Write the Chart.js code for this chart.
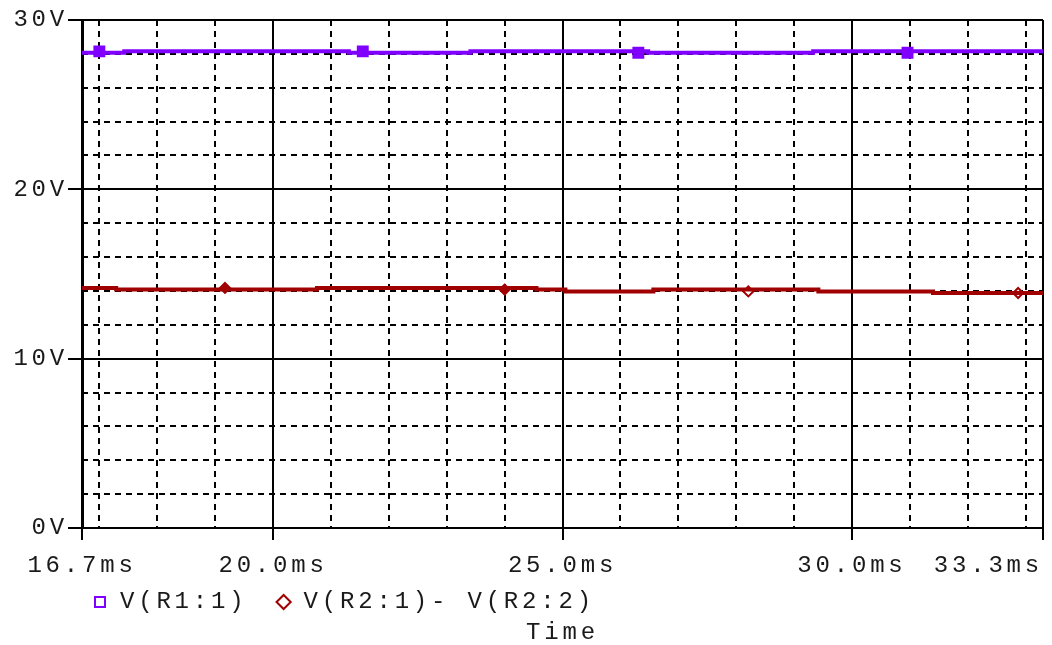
<!DOCTYPE html>
<html>
<head>
<meta charset="utf-8">
<title>Transient: V(R1:1) and V(R2:1)- V(R2:2)</title>
<script src="https://cdn.jsdelivr.net/npm/chart.js@4.4.1/dist/chart.umd.min.js"></script>
<style>
  html, body { margin: 0; padding: 0; background: #ffffff; }
  canvas { display: block; }
</style>
</head>
<body>
<canvas id="wave" width="1052" height="645"></canvas>
<script>
// ---- time axis (ms) ----
const timeRange = [16.7, 33.3];
const timeTickLabels = [16.7, 20.0, 25.0, 30.0, 33.3];
const timeMinorTicks = [17, 18, 19, 21, 22, 23, 24, 26, 27, 28, 29, 31, 32, 33];

// ---- voltage axis (V) ----
const voltRange = [0, 30];
const voltTickLabels = [0, 10, 20, 30];
const voltMinorTicks = [2, 4, 6, 8, 12, 14, 16, 18, 22, 24, 26, 28];

// ---- V(R1:1): step levels, each held until the next time ----
const r1Time = [16.7, 17.43, 21.31, 23.41, 26.48, 29.33, 31.69, 33.3];
const r1Volt = [28.15, 28.07, 28.15, 28.07, 28.15, 28.07, 28.15, 28.15];
const r1MarkTime = [17.0, 21.55, 26.31, 30.96];
const r1MarkVolt = [28.15, 28.15, 28.07, 28.07];

// ---- V(R2:1)- V(R2:2) ----
const r2Time = [16.7, 17.29, 20.76, 24.55, 25.05, 26.57, 29.42, 31.40, 32.69, 33.3];
const r2Volt = [14.08, 14.18, 14.08, 14.18, 14.08, 13.97, 14.08, 13.97, 13.88, 13.88];
const r2MarkTime = [19.17, 24.0, 28.21, 32.87];
const r2MarkVolt = [14.18, 14.08, 13.97, 13.88];

const seriesNames = ['V(R1:1)', 'V(R2:1)- V(R2:2)'];
const axisTitle = 'Time';

const PURPLE = '#8000ff';
const RED = '#a00000';
const INK = '#1a1a1a';
const MONO = { family: '"Liberation Mono", "Courier New", monospace', size: 24 };
const SPACING = '3.8px';

const pts = (xs, ys) => xs.map((x, i) => ({ x, y: ys[i] }));

// wide, evenly spaced lettering for every label on the canvas
const spacedText = {
  id: 'spacedText',
  beforeUpdate(chart) { chart.ctx.letterSpacing = SPACING; },
  beforeDraw(chart) { chart.ctx.letterSpacing = SPACING; }
};

const setTicks = list => scale => { scale.ticks = list.map(v => ({ value: v })); };

new Chart(document.getElementById('wave'), {
  type: 'line',
  data: {
    datasets: [
      {
        label: seriesNames[0],
        data: pts(r1Time, r1Volt),
        stepped: 'after',
        borderColor: PURPLE,
        borderWidth: 4,
        pointRadius: 0,
        xAxisID: 'x', yAxisID: 'y'
      },
      {
        label: seriesNames[1],
        data: pts(r2Time, r2Volt),
        stepped: 'after',
        borderColor: RED,
        borderWidth: 4,
        pointRadius: 0,
        xAxisID: 'x', yAxisID: 'y'
      },
      {
        label: seriesNames[0] + ' marker',
        data: pts(r1MarkTime, r1MarkVolt),
        showLine: false,
        pointStyle: 'rect',
        pointRadius: 7,
        pointBorderWidth: 2,
        pointBackgroundColor: PURPLE,
        pointBorderColor: PURPLE,
        xAxisID: 'x', yAxisID: 'y'
      },
      {
        label: seriesNames[1] + ' marker',
        data: pts(r2MarkTime, r2MarkVolt),
        showLine: false,
        pointStyle: 'rectRot',
        pointRadius: 5,
        pointBorderWidth: 2,
        pointBackgroundColor: [RED, RED, '#ffffff', '#ffffff'],
        pointBorderColor: RED,
        xAxisID: 'x', yAxisID: 'y'
      }
    ]
  },
  options: {
    responsive: false,
    animation: false,
    devicePixelRatio: 1,
    layout: { padding: { top: 20, right: 6, left: 0, bottom: 0 } },
    scales: {
      x: {
        type: 'linear',
        position: 'bottom',
        min: timeRange[0], max: timeRange[1],
        afterBuildTicks: setTicks(timeTickLabels),
        afterFit(scale) { scale.paddingLeft = 0; scale.paddingRight = 0; scale.height = 52; },
        ticks: {
          autoSkip: false, maxRotation: 0, minRotation: 0,
          color: INK, font: MONO, padding: 11,
          callback(v, i, ticks) {
            const txt = Number(v).toFixed(1) + 'ms';
            // last label sits left of its tick, flush with the plot edge
            return i === ticks.length - 1 ? txt + ' '.repeat(6) : txt;
          }
        },
        grid: { color: '#000', lineWidth: 2, tickLength: 12, tickWidth: 2, tickColor: '#000' },
        border: { display: true, color: '#000', width: 2 }
      },
      xMinor: {
        type: 'linear',
        position: 'bottom',
        min: timeRange[0], max: timeRange[1],
        afterBuildTicks: setTicks(timeMinorTicks),
        afterFit(scale) { scale.paddingLeft = 0; scale.paddingRight = 0; scale.height = 0; },
        ticks: { display: false },
        grid: { color: '#000', lineWidth: 2, drawTicks: false },
        border: { display: false, dash: [6, 5] }
      },
      y: {
        type: 'linear',
        position: 'left',
        min: voltRange[0], max: voltRange[1],
        afterBuildTicks: setTicks(voltTickLabels),
        afterFit(scale) { scale.width = 82; },
        ticks: {
          color: INK, font: MONO, padding: 0,
          callback: v => v + 'V'
        },
        grid: { color: '#000', lineWidth: 2, tickLength: 14, tickWidth: 2, tickColor: '#000' },
        border: { display: true, color: '#000', width: 3 }
      },
      yMinor: {
        type: 'linear',
        position: 'left',
        min: voltRange[0], max: voltRange[1],
        afterBuildTicks: setTicks(voltMinorTicks),
        afterFit(scale) { scale.width = 0; },
        ticks: { display: false },
        grid: { color: '#000', lineWidth: 2, drawTicks: false },
        border: { display: false, dash: [6, 5] }
      }
    },
    plugins: {
      tooltip: { enabled: false },
      legend: {
        display: true,
        position: 'bottom',
        align: 'start',
        fullSize: false,
        labels: {
          color: INK,
          font: MONO,
          usePointStyle: true,
          boxWidth: 16,
          boxHeight: 10,
          padding: 10,
          filter: item => item.datasetIndex < 2,
          generateLabels: () => [
            // trailing space widens the gap before the second entry
            { text: seriesNames[0] + ' ', pointStyle: 'rect', fillStyle: '#ffffff', strokeStyle: PURPLE, lineWidth: 2, fontColor: INK, datasetIndex: 0, hidden: false },
            { text: seriesNames[1], pointStyle: 'rectRot', fillStyle: '#ffffff', strokeStyle: RED, lineWidth: 2, fontColor: INK, datasetIndex: 1, hidden: false }
          ]
        }
      },
      title: {
        display: true,
        position: 'bottom',
        fullSize: false,
        text: axisTitle,
        color: INK,
        font: { family: MONO.family, size: 24, weight: 'normal', lineHeight: 1.0 },
        padding: { top: -3, bottom: 0 }
      }
    }
  },
  plugins: [spacedText]
});
</script>
</body>
</html>
